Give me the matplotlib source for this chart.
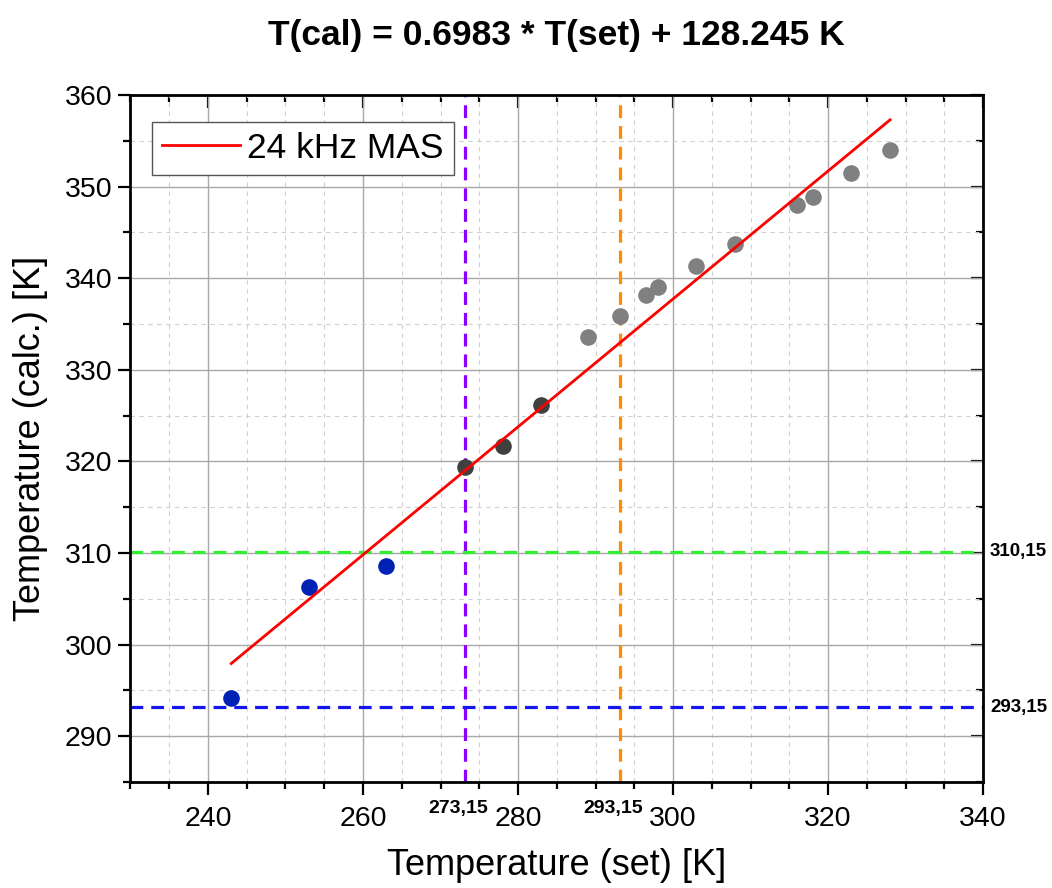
import numpy as np
import matplotlib.pyplot as plt
from matplotlib.ticker import MultipleLocator

plt.rcParams['font.family'] = ['Liberation Sans', 'DejaVu Sans']

# calibration points (set temperature, calculated temperature)
blue_x = [243, 253, 263]
blue_y = [294.2, 306.3, 308.6]
dark_x = [273.15, 278, 283]
dark_y = [319.4, 321.7, 326.2]
gray_x = [289, 293.15, 296.5, 298, 303, 308, 316, 318, 323, 328]
gray_y = [333.6, 335.9, 338.2, 339.0, 341.3, 343.7, 348.0, 348.9, 351.5, 354.0]

# linear fit: T(cal) = 0.6983 * T(set) + 128.245
fit_x = [243, 328]
fit_y = [297.93, 357.29]

vlines = [273.15, 293.15]
vcolors = ['#8C00FF', '#FF8C00']
hlines = [310.15, 293.15]
hcolors = ['#33EE33', '#1515EE']

fig = plt.figure(figsize=(10.52, 8.88), dpi=100)
ax = fig.add_axes([0.124, 0.1194, 0.8105, 0.7736])

ax.set_xlim(230, 340)
ax.set_ylim(285, 360)
ax.xaxis.set_major_locator(MultipleLocator(20))
ax.xaxis.set_minor_locator(MultipleLocator(5))
ax.yaxis.set_major_locator(MultipleLocator(10))
ax.yaxis.set_minor_locator(MultipleLocator(5))

ax.grid(which='major', color='#a8a8a8', lw=1.0, ls='-', zorder=0)
ax.grid(which='minor', color='#d0d0d0', lw=0.8, ls=(0, (4, 4)), zorder=0)
ax.set_axisbelow(True)

for x, c in zip(vlines, vcolors):
    ax.axvline(x, color=c, lw=2.3, ls=(0, (4, 2.5)), zorder=2)
for y, c in zip(hlines, hcolors):
    ax.axhline(y, color=c, lw=2.3, ls=(0, (4, 2.5)), zorder=2)

ax.plot(fit_x, fit_y, color='#FF0000', lw=2.0, label='24 kHz MAS', zorder=4)
ax.scatter(blue_x, blue_y, s=120, color='#0022B4', zorder=3)
ax.scatter(dark_x, dark_y, s=120, color='#404040', zorder=3)
ax.scatter(gray_x, gray_y, s=120, color='#808080', zorder=3)

for sp in ax.spines.values():
    sp.set_linewidth(2)
ax.tick_params(which='major', direction='out', length=9, width=1.6,
               labelsize=20.5, pad=8)
ax.tick_params(which='minor', direction='out', length=5, width=1.6)
ax.tick_params(axis='y', pad=4)

# mirrored inward ticks on top and right
top = ax.secondary_xaxis('top')
top.xaxis.set_major_locator(MultipleLocator(20))
top.xaxis.set_minor_locator(MultipleLocator(5))
top.tick_params(which='major', direction='in', length=9, width=1.6, labeltop=False)
top.tick_params(which='minor', direction='in', length=5, width=1.6)
right = ax.secondary_yaxis('right')
right.yaxis.set_major_locator(MultipleLocator(10))
right.yaxis.set_minor_locator(MultipleLocator(5))
right.tick_params(which='major', direction='in', length=9, width=1.6, labelright=False)
right.tick_params(which='minor', direction='in', length=5, width=1.6)

# reference labels
for x in vlines:
    ax.annotate(f"{x:.2f}".replace('.', ','), xy=(x, 0), xycoords=('data', 'axes fraction'),
                xytext=(-5, -13), textcoords='offset points', ha='center', va='top',
                fontsize=14, fontweight='bold')
for y in hlines:
    ax.annotate(f"{y:.2f}".replace('.', ','), xy=(1, y), xycoords=('axes fraction', 'data'),
                xytext=(5, 0), textcoords='offset points', ha='left', va='center',
                fontsize=13.5, fontweight='bold')

ax.set_xlabel('Temperature (set) [K]', fontsize=26, labelpad=12)
ax.set_ylabel('Temperature (calc.) [K]', fontsize=26, labelpad=12)
ax.set_title('T(cal) = 0.6983 * T(set) + 128.245 K', fontsize=25.5, fontweight='bold', pad=36)

leg = ax.legend(loc='upper left', bbox_to_anchor=(0.025, 0.961), borderaxespad=0,
                fontsize=25.5, handlelength=2.2, fancybox=False,
                edgecolor='#555555', framealpha=1,
                borderpad=0.28, handletextpad=0.22)
leg.get_frame().set_linewidth(1.0)

fig.savefig('out.png', dpi=100)
